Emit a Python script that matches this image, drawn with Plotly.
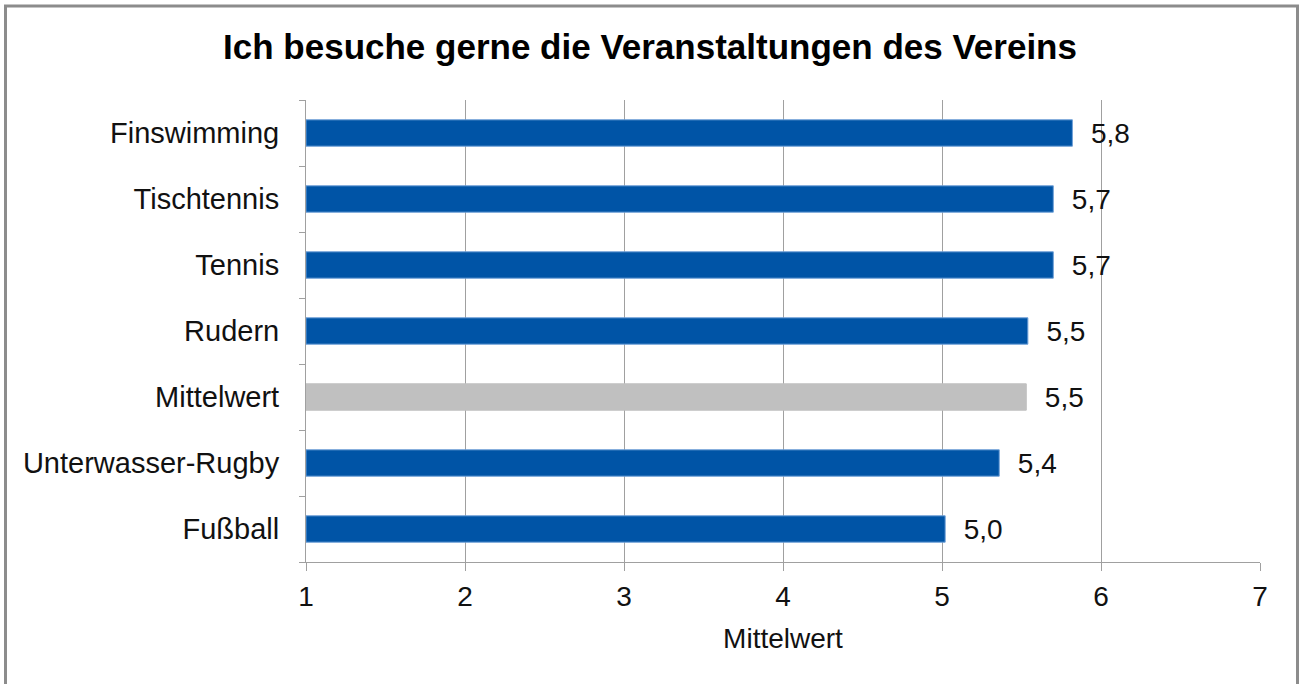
import plotly.graph_objects as go

categories = ["Fußball", "Unterwasser-Rugby", "Mittelwert", "Rudern", "Tennis", "Tischtennis", "Finswimming"]
values = [5.02, 5.36, 5.53, 5.54, 5.70, 5.70, 5.82]
bar_colors = ["#0054A6", "#0054A6", "#C0C0C0", "#0054A6", "#0054A6", "#0054A6", "#0054A6"]
line_colors = ["#6FA0D8", "#6FA0D8", "#C0C0C0", "#6FA0D8", "#6FA0D8", "#6FA0D8", "#6FA0D8"]
x_ticks = [1, 2, 3, 4, 5, 6, 7]

FONT = "Liberation Sans, Arial, sans-serif"
TXT = "#111111"

fig = go.Figure(go.Bar(
    x=[v - 1 for v in values],
    base=1,
    y=categories,
    orientation="h",
    marker=dict(color=bar_colors, line=dict(color=line_colors, width=1)),
    text=[("%.1f" % v).replace(".", ",") for v in values],
    texttemplate="  %{text}",
    textposition="outside",
    constraintext="none",
    cliponaxis=False,
    textfont=dict(family=FONT, size=28, color=TXT),
    hoverinfo="skip",
))

W, H = 1299, 684
L, R, T, B = 306, 1260, 100, 562

fig.update_layout(
    width=W, height=H,
    margin=dict(l=L, r=W - R, t=T, b=H - B),
    paper_bgcolor="white",
    plot_bgcolor="white",
    bargap=0.6,
    showlegend=False,
    title=dict(
        text="<b>Ich besuche gerne die Veranstaltungen des Vereins</b>",
        x=650 / W, xref="container", xanchor="center",
        y=1 - 47 / H, yref="container", yanchor="middle",
        font=dict(family=FONT, size=35, color="#000000"),
    ),
    font=dict(family=FONT, size=28, color=TXT),
    xaxis=dict(
        range=[1, 7],
        tickvals=x_ticks,
        ticktext=[str(t) for t in x_ticks],
        showgrid=True, gridcolor="#A0A0A0", gridwidth=1,
        showline=True, linecolor="#A0A0A0", linewidth=1,
        ticks="outside", ticklen=8, tickcolor="#A0A0A0",
        tickfont=dict(family=FONT, size=28, color=TXT),
        ticklabelstandoff=1,
        zeroline=False,
        title=dict(text="Mittelwert", font=dict(family=FONT, size=28, color=TXT), standoff=17),
    ),
    yaxis=dict(
        showgrid=False,
        showline=True, linecolor="#A0A0A0", linewidth=1,
        ticks="outside", ticklen=6, tickcolor="#A0A0A0",
        tickson="boundaries",
        tickfont=dict(family=FONT, size=29, color=TXT),
        ticklabelstandoff=20,
        zeroline=False,
    ),
)

# outer chart border
fig.add_shape(
    type="rect", xref="paper", yref="paper",
    x0=(5.5 - L) / (R - L), x1=(1297.5 - L) / (R - L),
    y0=(B - 700) / (B - T), y1=(B - 6) / (B - T),
    line=dict(color="#8C8C8C", width=3), fillcolor="rgba(0,0,0,0)", layer="below",
)

fig.write_html("out.html", config={"displayModeBar": False},
               post_script="document.body.style.margin='0px';")
